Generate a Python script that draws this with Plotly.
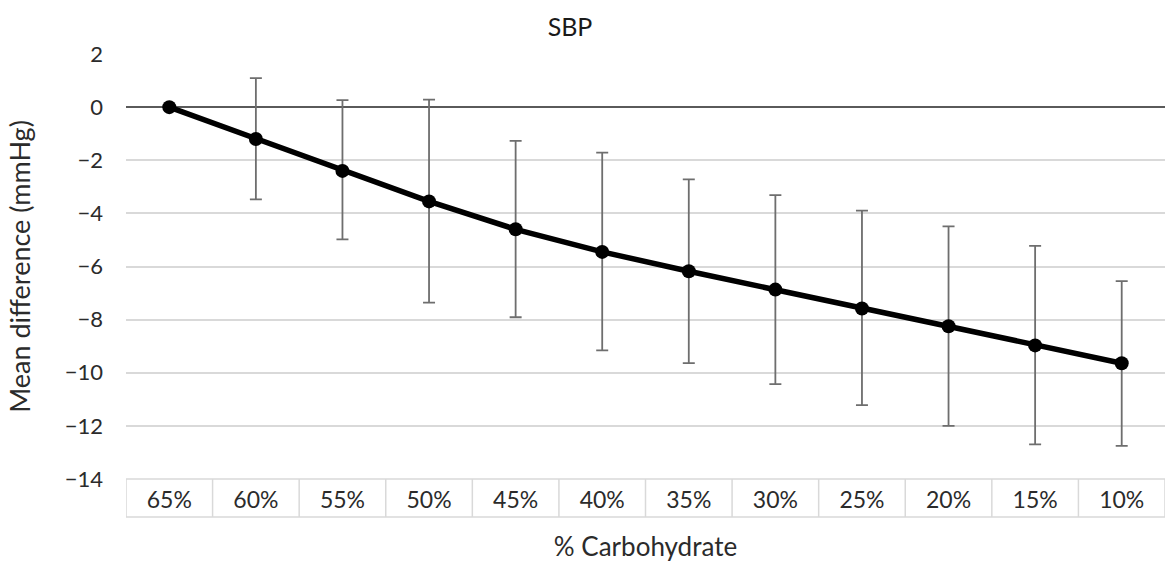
import plotly.graph_objects as go

categories = ["65%", "60%", "55%", "50%", "45%", "40%", "35%", "30%", "25%", "20%", "15%", "10%"]
mean_diff = [0.0, -1.2, -2.4, -3.55, -4.6, -5.45, -6.18, -6.87, -7.58, -8.25, -8.97, -9.64]
upper_ci = [0.0, 1.09, 0.26, 0.28, -1.27, -1.71, -2.72, -3.31, -3.9, -4.49, -5.22, -6.55]
lower_ci = [0.0, -3.47, -4.98, -7.36, -7.91, -9.16, -9.64, -10.43, -11.22, -12.0, -12.7, -12.75]

err_plus = [u - m for u, m in zip(upper_ci, mean_diff)]
err_minus = [m - l for m, l in zip(mean_diff, lower_ci)]

FONT = "Lato"
TXT = "#2b2b2b"

fig = go.Figure()
fig.add_trace(go.Scatter(
    x=categories, y=mean_diff, mode="lines+markers",
    line=dict(color="black", width=5.5),
    marker=dict(color="black", size=14),
    error_y=dict(type="data", symmetric=False, array=err_plus, arrayminus=err_minus,
                 color="#6e6e6e", thickness=1.8, width=6),
    showlegend=False,
))

W, H = 1165, 565
L, R, T, B = 126, 0, 54, 86
ph = H - T - B
box_h = 38 / ph

shapes = []
for i in range(len(categories) + 1):
    shapes.append(dict(type="line", xref="x", yref="paper", x0=i - 0.5, x1=i - 0.5,
                       y0=0, y1=-box_h, line=dict(color="#d9d9d9", width=1.5)))
shapes.append(dict(type="line", xref="paper", yref="paper", x0=0, x1=1,
                   y0=-box_h, y1=-box_h, line=dict(color="#d9d9d9", width=1.5)))
shapes.append(dict(type="line", xref="paper", yref="paper", x0=0, x1=1,
                   y0=0, y1=0, line=dict(color="#d9d9d9", width=1.5)))

fig.update_layout(
    width=W, height=H,
    margin=dict(l=L, r=R, t=T, b=B),
    plot_bgcolor="white", paper_bgcolor="white",
    font=dict(family=FONT, color=TXT, size=22),
    title=dict(text="SBP", x=570 / W, xref="container", xanchor="center",
               y=1 - 27 / H, yref="container", yanchor="middle",
               font=dict(family=FONT, size=25, color="#1a1a1a")),
    xaxis=dict(type="category", range=[-0.5, len(categories) - 0.5],
               showgrid=False, zeroline=False, showline=False, ticks="",
               tickfont=dict(size=23, color=TXT), ticklabelstandoff=5,
               title=dict(text="% Carbohydrate", font=dict(size=26, color=TXT), standoff=25)),
    yaxis=dict(range=[-14, 2], dtick=2, tick0=0, showgrid=True, gridcolor="#d9d9d9",
               gridwidth=1.5, zeroline=True, zerolinecolor="#5a5a5a", zerolinewidth=1.5,
               showline=False, ticks="", tickfont=dict(size=22, color=TXT),
               ticklabelstandoff=22,
               title=dict(text="Mean difference (mmHg)", font=dict(size=27, color=TXT), standoff=26)),
    shapes=shapes,
)

fig.write_html("out.html")
